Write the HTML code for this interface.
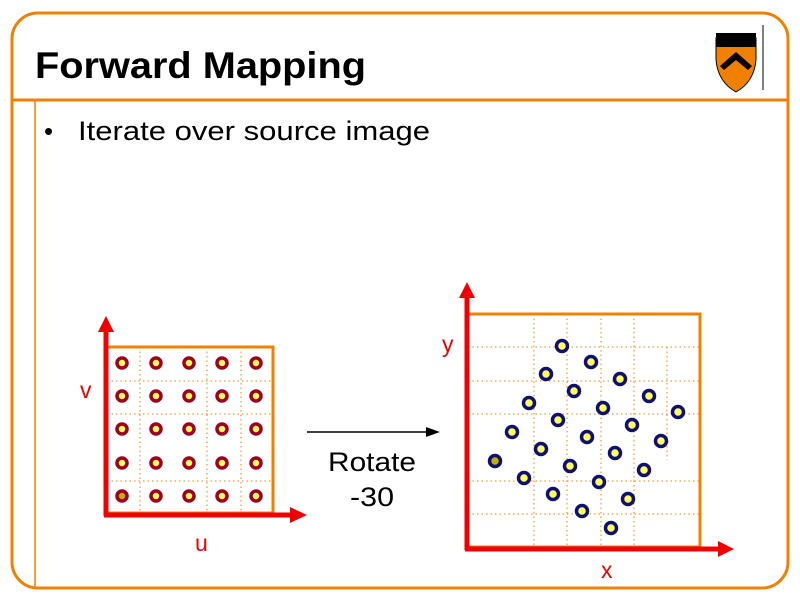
<!DOCTYPE html><html><head><style>body{margin:0;background:#fff}</style></head><body>
<svg width="800" height="600" xmlns="http://www.w3.org/2000/svg" font-family="Liberation Sans, sans-serif">
<rect x="12" y="13" width="776" height="575" rx="26" fill="none" stroke="#f08000" stroke-width="3"/>
<line x1="12" y1="100" x2="788" y2="100" stroke="#f08000" stroke-width="3"/>
<line x1="35" y1="100" x2="35" y2="588" stroke="#f08000" stroke-width="1.5"/>
<text x="35" y="78" font-size="37" font-weight="bold" textLength="331" lengthAdjust="spacingAndGlyphs">Forward Mapping</text>
<text x="44" y="140" font-size="26">•</text>
<text x="78" y="140" font-size="27" textLength="352" lengthAdjust="spacingAndGlyphs">Iterate over source image</text>
<!-- logo -->
<path d="M716 38 L756 38 L756 60 Q754 82 736 92 Q718 82 716 60Z" fill="#f08000" stroke="#000"/>
<rect x="716" y="33" width="40" height="14" fill="#000"/>
<path d="M720 66 L736 52 L752 66 L748 70 L736 60 L724 70Z" fill="#000"/>
<line x1="763" y1="25" x2="763" y2="90" stroke="#000"/>
<!-- left grid -->
<g stroke="#f08000" stroke-width="1" stroke-dasharray="1.5,3">
<line x1="140" y1="347" x2="140" y2="513"/><line x1="207" y1="347" x2="207" y2="513"/><line x1="241" y1="347" x2="241" y2="513"/>
<line x1="107" y1="381" x2="273" y2="381"/><line x1="107" y1="414" x2="273" y2="414"/><line x1="107" y1="481" x2="273" y2="481"/>
</g>
<rect x="107" y="347" width="166" height="166" fill="none" stroke="#f08000" stroke-width="3"/>
<g fill="#ffff60" stroke="#a00020" stroke-width="3.5">
<circle cx="122" cy="363" r="5"/><circle cx="156" cy="363" r="5"/><circle cx="189" cy="363" r="5"/><circle cx="222" cy="363" r="5"/><circle cx="256" cy="363" r="5"/>
<circle cx="122" cy="396" r="5"/><circle cx="156" cy="396" r="5"/><circle cx="189" cy="396" r="5"/><circle cx="222" cy="396" r="5"/><circle cx="256" cy="396" r="5"/>
<circle cx="122" cy="429" r="5"/><circle cx="156" cy="429" r="5"/><circle cx="189" cy="429" r="5"/><circle cx="222" cy="429" r="5"/><circle cx="256" cy="429" r="5"/>
<circle cx="122" cy="463" r="5"/><circle cx="156" cy="463" r="5"/><circle cx="189" cy="463" r="5"/><circle cx="222" cy="463" r="5"/><circle cx="256" cy="463" r="5"/>
<circle cx="122" cy="496" r="5" fill="#c0b000"/><circle cx="156" cy="496" r="5"/><circle cx="189" cy="496" r="5"/><circle cx="222" cy="496" r="5"/><circle cx="256" cy="496" r="5"/>
</g>
<g fill="#f00000" stroke="#f00000" stroke-width="5">
<line x1="106" y1="330" x2="106" y2="516"/><line x1="104" y1="515" x2="292" y2="515"/>
<polygon points="98,332 106,316 114,332" stroke="none"/><polygon points="290,507 307,515 290,523" stroke="none"/>
</g>
<text x="80" y="398" font-size="23" fill="#f00000">v</text>
<text x="195" y="551" font-size="23" fill="#f00000">u</text>
<!-- arrow -->
<line x1="307" y1="432" x2="428" y2="432" stroke="#000" stroke-width="1.5"/>
<polygon points="426,427 440,432 426,437" fill="#000"/>
<text x="328" y="471" font-size="27" textLength="88" lengthAdjust="spacingAndGlyphs">Rotate</text>
<text x="350" y="506" font-size="27" textLength="44" lengthAdjust="spacingAndGlyphs">-30</text>
<!-- right grid -->
<g stroke="#f08000" stroke-width="1" stroke-dasharray="1.5,3">
<line x1="534" y1="314" x2="534" y2="547"/><line x1="567" y1="314" x2="567" y2="547"/><line x1="601" y1="314" x2="601" y2="547"/><line x1="634" y1="314" x2="634" y2="547"/><line x1="667" y1="347" x2="667" y2="460"/>
<line x1="468" y1="347" x2="700" y2="347"/><line x1="468" y1="381" x2="700" y2="381"/><line x1="468" y1="414" x2="700" y2="414"/><line x1="468" y1="481" x2="700" y2="481"/><line x1="468" y1="514" x2="700" y2="514"/>
</g>
<rect x="468" y="314" width="232" height="233" fill="none" stroke="#f08000" stroke-width="3"/>
<g fill="#ffff60" stroke="#101070" stroke-width="3.5">
<circle cx="562" cy="346" r="5.5"/><circle cx="591" cy="362" r="5.5"/><circle cx="546" cy="374" r="5.5"/><circle cx="620" cy="379" r="5.5"/><circle cx="574" cy="391" r="5.5"/><circle cx="649" cy="396" r="5.5"/><circle cx="529" cy="403" r="5.5"/><circle cx="603" cy="408" r="5.5"/><circle cx="678" cy="412" r="5.5"/><circle cx="558" cy="420" r="5.5"/><circle cx="632" cy="425" r="5.5"/><circle cx="512" cy="432" r="5.5"/><circle cx="587" cy="437" r="5.5"/><circle cx="661" cy="441" r="5.5"/><circle cx="541" cy="449" r="5.5"/><circle cx="615" cy="453" r="5.5"/><circle cx="495" cy="461" r="5.5" fill="#c0b000"/><circle cx="570" cy="466" r="5.5"/><circle cx="644" cy="470" r="5.5"/><circle cx="524" cy="478" r="5.5"/><circle cx="599" cy="482" r="5.5"/><circle cx="628" cy="499" r="5.5"/><circle cx="553" cy="494" r="5.5"/><circle cx="582" cy="511" r="5.5"/><circle cx="611" cy="528" r="5.5"/>
</g>
<g fill="#f00000" stroke="#f00000" stroke-width="5">
<line x1="467" y1="296" x2="467" y2="550"/><line x1="465" y1="549" x2="720" y2="549"/>
<polygon points="459,298 467,282 475,298" stroke="none"/><polygon points="718,541 734,549 718,557" stroke="none"/>
</g>
<text x="442" y="352" font-size="23" fill="#f00000">y</text>
<text x="601" y="578" font-size="23" fill="#f00000">x</text>
</svg>
</body></html>
